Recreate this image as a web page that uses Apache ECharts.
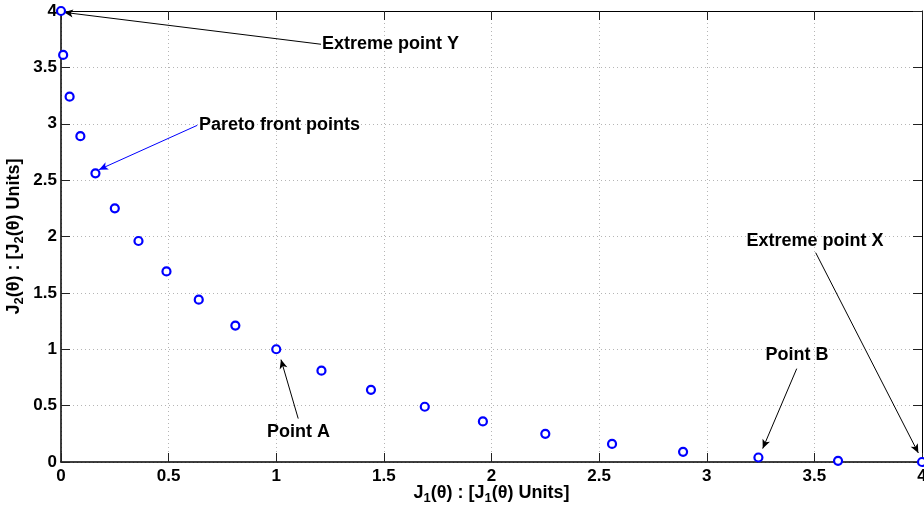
<!DOCTYPE html>
<html>
<head>
<meta charset="utf-8">
<script src="https://cdn.jsdelivr.net/npm/echarts@6/dist/echarts.min.js"></script>
<style>html,body{margin:0;padding:0;background:#fff}#c{width:924px;height:509px}</style>
</head>
<body>
<div id="c"></div>
<script>
// Pareto front points
const j1Values = [0, 0.01, 0.04, 0.09, 0.16, 0.25, 0.36, 0.49, 0.64, 0.81, 1, 1.21, 1.44, 1.69, 1.96, 2.25, 2.56, 2.89, 3.24, 3.61, 4];
const j2Values = [4, 3.61, 3.24, 2.89, 2.56, 2.25, 1.96, 1.69, 1.44, 1.21, 1, 0.81, 0.64, 0.49, 0.36, 0.25, 0.16, 0.09, 0.04, 0.01, 0];
const xTicks = [0, 0.5, 1, 1.5, 2, 2.5, 3, 3.5, 4];
const yTicks = [0, 0.5, 1, 1.5, 2, 2.5, 3, 3.5, 4];

// annotations (data coordinates): label, label anchor, arrow start, arrow end
const annLabels = ['Extreme point Y', 'Pareto front points', 'Point A', 'Point B', 'Extreme point X'];
const annText = [[1.212, 3.705], [0.641, 2.986], [1.103, 0.266], [3.419, 0.946], [3.503, 1.960]];
const annAlign = ['left', 'left', 'center', 'center', 'center'];
const annFrom = [[1.208, 3.705], [0.633, 2.986], [1.102, 0.385], [3.418, 0.828], [3.506, 1.857]];
const annTo = [[0.014, 3.988], [0.1765, 2.593], [1.022, 0.908], [3.260, 0.119], [3.983, 0.080]];
const annColor = ['#000000', '#0000ff', '#000000', '#000000', '#000000'];

const FONT = 'Liberation Sans, Arial, Helvetica, sans-serif';
const pts = j1Values.map((x, i) => [x, j2Values[i]]);

function nameRich(){
  return {
    m: {fontSize: 18, fontWeight: 'bold', fontFamily: FONT, color: '#000'},
    s: {fontSize: 13, fontWeight: 'bold', fontFamily: FONT, color: '#000', padding: [11, 0, 0, 0]}
  };
}

const axisCommon = {
  type: 'value', min: 0, max: 4, interval: 0.5,
  axisLine: {show: true, onZero: false, lineStyle: {color: '#000', width: 1.5}},
  axisTick: {show: true, inside: true, length: 9, lineStyle: {color: '#222', width: 1}},
};

const chart = echarts.init(document.getElementById('c'), null, {renderer: 'canvas'});
chart.setOption({
  animation: false,
  backgroundColor: '#fff',
  grid: {left: 61, right: 2, top: 11, bottom: 47, containLabel: false, outerBoundsMode: 'none'},
  xAxis: [
    Object.assign({}, axisCommon, {
      position: 'bottom',
      axisLabel: {show: true, margin: 6, fontSize: 17, fontWeight: 'bold', fontFamily: FONT, color: '#000',
        formatter: v => xTicks.includes(v) ? String(v) : ''},
      splitLine: {show: true, lineStyle: {color: '#b5b5b5', type: [1, 3], width: 1}},
      name: '{m|J}{s|1}{m|(θ) : [J}{s|1}{m|(θ) Units]}',
      nameLocation: 'middle', nameGap: 19, nameMoveOverlap: false,
      nameTextStyle: {rich: nameRich()}
    }),
    Object.assign({}, axisCommon, {
      position: 'top',
      axisLine: {show: true, onZero: false, lineStyle: {color: '#000', width: 1}},
      axisLabel: {show: false}, splitLine: {show: false}
    })
  ],
  yAxis: [
    Object.assign({}, axisCommon, {
      position: 'left',
      axisLabel: {show: true, margin: 4, fontSize: 17, fontWeight: 'bold', fontFamily: FONT, color: '#000',
        formatter: v => yTicks.includes(v) ? String(v) : ''},
      splitLine: {show: true, lineStyle: {color: '#b5b5b5', type: [1, 3], width: 1}},
      name: '{m|J}{s|2}{m|(θ) : [J}{s|2}{m|(θ) Units]}',
      nameLocation: 'middle', nameGap: 35, nameRotate: 90, nameMoveOverlap: false,
      nameTextStyle: {rich: nameRich()}
    }),
    Object.assign({}, axisCommon, {
      position: 'right',
      axisLine: {show: true, onZero: false, lineStyle: {color: '#000', width: 1}},
      axisLabel: {show: false}, splitLine: {show: false}
    })
  ],
  series: [
    {
      type: 'scatter',
      data: pts,
      symbol: 'circle',
      symbolSize: 8,
      clip: false,
      z: 5,
      itemStyle: {color: '#ffffff', borderColor: '#0000ff', borderWidth: 2.2, opacity: 1},
      markLine: {
        silent: true,
        animation: false,
        symbol: ['none', 'arrow'],
        symbolSize: [6, 9],
        label: {show: false},
        emphasis: {disabled: true},
        data: annFrom.map((f, i) => [
          {coord: f, lineStyle: {color: annColor[i], width: 1, type: 'solid', opacity: 1}},
          {coord: annTo[i]}
        ])
      }
    },
    {
      type: 'scatter',
      data: annText.map((p, i) => ({value: p, name: annLabels[i],
        label: {align: annAlign[i]}})),
      symbolSize: 0,
      clip: false,
      silent: true,
      z: 6,
      label: {
        show: true, position: 'inside', formatter: p => p.name,
        fontSize: 18, fontWeight: 'bold', fontFamily: FONT, color: '#000',
        textBorderWidth: 0, textBorderColor: 'transparent', opacity: 1,
        verticalAlign: 'middle'
      }
    }
  ]
});
</script>
</body>
</html>
